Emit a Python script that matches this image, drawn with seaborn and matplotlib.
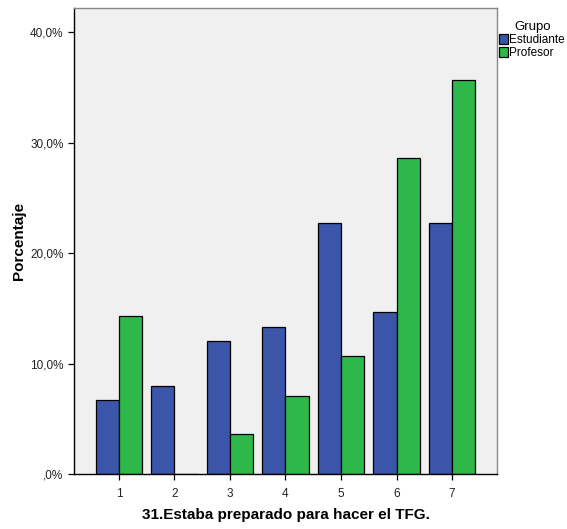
import pandas as pd
import matplotlib
matplotlib.use("Agg")
import matplotlib.pyplot as plt
import seaborn as sns
from matplotlib.ticker import FuncFormatter

# data: percentage of each group per answer (1-7)
categories = ["1", "2", "3", "4", "5", "6", "7"]
estudiante = [6.7, 8.0, 12.0, 13.3, 22.7, 14.7, 22.7]
profesor = [14.3, 0.0, 3.6, 7.1, 10.7, 28.6, 35.7]
groups = ["Estudiante", "Profesor"]
y_ticks = [0, 10, 20, 30, 40]

df = pd.DataFrame({
    "respuesta": categories * 2,
    "Grupo": [groups[0]] * len(categories) + [groups[1]] * len(categories),
    "pct": estudiante + profesor,
})

sns.set_style("white")
plt.rcParams["font.family"] = ["Liberation Sans", "DejaVu Sans"]
plt.rcParams["text.color"] = "black"
plt.rcParams["axes.labelcolor"] = "black"

fig = plt.figure(figsize=(5.67, 5.29), dpi=100)
ax = fig.add_axes([0.1305, 0.104, 0.746, 0.881])
ax.set_facecolor("#f0f0f0")

sns.barplot(data=df, x="respuesta", y="pct", hue="Grupo", order=categories,
            hue_order=groups, palette=["#3b55a8", "#2fb84a"], width=0.83,
            edgecolor="black", linewidth=0.9, saturation=1, ax=ax)

ax.set_xlim(-0.81, 6.81)
ax.set_ylim(0, 42.2)
ax.set_yticks(y_ticks)
ax.yaxis.set_major_formatter(FuncFormatter(
    lambda v, p: ",0%" if v == 0 else f"{v:.1f}%".replace(".", ",")))
ax.tick_params(axis="both", length=4, width=0.9, color="black",
               labelsize=8.5, labelcolor="#222222", left=True, bottom=True)
ax.tick_params(axis="x", pad=6)

ax.set_xlabel("31.Estaba preparado para hacer el TFG.", fontsize=11,
              fontweight="bold", labelpad=6)
ax.set_ylabel("Porcentaje", fontsize=11, fontweight="bold", labelpad=3)

for side in ["left", "bottom"]:
    ax.spines[side].set_color("black")
    ax.spines[side].set_linewidth(1.0)
for side in ["top", "right"]:
    ax.spines[side].set_color("#888888")
    ax.spines[side].set_linewidth(1.0)

ax.legend(title="Grupo", loc="upper left", bbox_to_anchor=(1.003, 0.975),
          frameon=False, fontsize=8.5, title_fontsize=9.5,
          handlelength=0.7, handleheight=0.9, handletextpad=0.15,
          labelspacing=0.1, borderaxespad=0, borderpad=0.1)

fig.savefig("out.png", dpi=100)
